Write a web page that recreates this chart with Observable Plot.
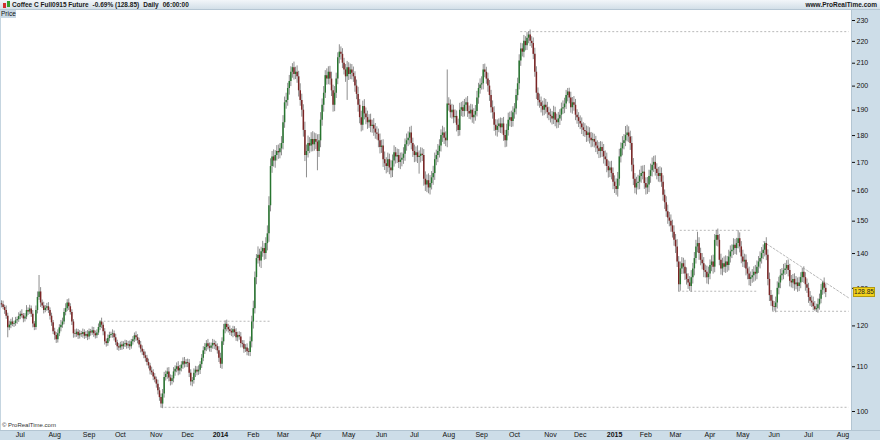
<!DOCTYPE html>
<html><head><meta charset="utf-8">
<script src="https://cdn.jsdelivr.net/npm/d3@7"></script>
<script src="https://cdn.jsdelivr.net/npm/@observablehq/plot@0.6"></script>
<style>
html,body{margin:0;padding:0;background:#fff;}
#wrap{position:relative;width:880px;height:440px;overflow:hidden;font-family:"Liberation Sans",Arial,sans-serif;}
#hdr{position:absolute;left:0;top:0;width:880px;height:10px;background:linear-gradient(#f2f6f9,#d3dfe8);border-bottom:1px solid #b5c6d3;box-sizing:border-box;}
#hleft{position:absolute;left:12px;top:0;display:flex;gap:4px;font-size:6.5px;line-height:9px;font-weight:bold;color:#1a1a1a;white-space:pre;}
#hright{position:absolute;right:3px;top:0;font-size:6.5px;line-height:9px;font-weight:bold;color:#1a1a1a;}
#icon1{position:absolute;left:3px;top:3px;width:3px;height:5px;background:#d03030;}
#icon2{position:absolute;left:7px;top:1px;width:3px;height:6px;background:#30a030;}
#price{position:absolute;left:0;top:10px;width:15px;height:8px;background:#c9d9e5;font-size:6.5px;line-height:8px;color:#111;padding-left:1px;}
#rpanel{position:absolute;left:851px;top:10px;width:29px;height:430px;background:#cddde8;border-left:1px solid #b3c5d2;box-sizing:border-box;}
#bpanel{position:absolute;left:0;top:430px;width:880px;height:10px;background:#cddde8;border-top:1px solid #b3c5d2;box-sizing:border-box;}
#lborder{position:absolute;left:0;top:10px;width:1px;height:420px;background:#c5d5e0;}
#copy{position:absolute;left:2px;top:422px;font-size:6px;color:#333;}
#chart{position:absolute;left:0;top:10px;}
#tag{position:absolute;left:853px;width:20px;height:8px;background:#f2d21b;border:1px solid #b49a10;font-size:6.5px;line-height:8px;text-align:center;color:#222;}
</style></head>
<body>
<div id="wrap">
  <div id="rpanel"></div>
  <div id="bpanel"></div>
  <div id="lborder"></div>
  <div id="chart"></div>
  <div id="hdr">
    <div id="icon1"></div><div id="icon2"></div>
    <div id="hleft"><span>Coffee C Full0915 Future</span><span>-0.69% (128.85)</span><span>Daily</span><span>06:00:00</span></div>
    <div id="hright">www.ProRealTime.com</div>
  </div>
  <div id="price">Price</div>
  <div id="copy">© ProRealTime.com</div>
  <div id="tag"></div>
</div>
<script>
// ---- data ----
const startDate = "2013-06-13";
const holidays = ["2013-07-04","2013-09-02","2013-11-28","2013-12-25","2014-01-01","2014-01-20","2014-02-17","2014-04-18","2014-05-26","2014-07-04","2014-09-01","2014-11-27","2014-12-25","2015-01-01","2015-01-19","2015-02-16","2015-04-03","2015-05-25","2015-07-03"];
const firstOpen = 125.8;
const closes = [
125.5,124.8,124,122.5,119.5,120.2,121,120.4,120.6,121.3,
121.6,122.4,123,122.6,121.8,122.3,124,123.6,124.4,123,
120.5,119.6,124,127.5,129,126,125.2,124,124.6,125,
124,122.5,120.8,118.5,117.6,116.5,118,119.5,120.2,121,
123.5,124.5,126,125,123.5,121,118,117.8,118.4,117.5,
118,117.8,118.3,117.4,117.8,117.2,118.5,118.2,118.8,118,
117.5,118.2,119.6,121,120.2,118.5,116,115.6,116.8,117.6,
117.8,118,117,115.8,114.8,114.5,115.2,114.8,115.4,115.6,
115,115.3,114.8,116,116.5,117.5,117,116.3,115.2,114.2,
113.5,112.6,112,111,110.2,109,108.6,107.6,107,106,
104.5,103,101.6,103.8,107.5,108.2,108.8,107.4,106.6,107.2,
108.8,109.4,110,109,109.6,110.4,111.2,110.6,111,110.8,
108.5,106.5,106.8,108.5,109.2,108.8,109.2,110.5,112,113.8,
114.6,115.5,114.8,114.4,115,115.6,115.2,114.8,113.8,112,
110.6,116,119,120.4,119.6,119,118.6,118.2,119,118.3,
117,117.6,117.2,115.6,115.4,114.2,114.5,113.6,113.4,116,
121,124.5,133,138.5,139.5,137.8,140.5,141.5,140,143,
146,155,168.5,172,170.5,172.5,174,173.5,175,177,
185,193,194,199,202,206,208,205,206,204,
198,194,190,182,172.5,174,177,176,178.5,176.5,
178.5,177.5,174,178,186,192,197,204.5,203,206,
203,198,192,197,203,212.5,215,214,210,207,
204,208,205,207,205.5,204,200,196.5,192,187,
184,191.5,188.5,187,185,186,183.5,184,182.5,181,
180.5,178,175.5,176,171,169.5,168.5,171,168,167,
170.5,173.5,172,172.5,170,170.8,171.5,173,176.5,178,
179,181,177,174,172.5,173.5,171.8,172.2,173,172.5,
164,162,163.5,161,162.5,164.5,166,171,172.5,174,
176,180,181,179,178,192.5,192,189,190,187,
187.5,184,182,190,191,189.5,192,193,189.5,188.5,
190,187,188,189.5,195,199,200.5,201,207,206,
203,200,196,191,189,184,182,183.5,184.5,183,
184.5,180,178,182,186,187,185.5,189,190.5,196,
201,211,216.5,215,220,218,221.5,223,220,219,
214,206,197,194,193,191.5,190,192,191,189,
188,187.5,186.5,189,186,185,186.5,188,190.5,191,
192.5,196,197.5,195,191,193,192,188,187,185.5,
184.5,183,182,181.5,180,181,179,178,178.5,177.5,
176,175,174,175.5,174,172,171,168.5,167,168,
166,163,161.5,160.5,164,172,175,177,178,180,
181,179.5,177,169,164,161,162.5,163,165,166,
166.5,162.5,161,162,165,167,169,170,167.5,166,
165,166,163,158.5,156,153,151,150,148.5,146.5,
144,142,137.5,131,135.5,137,136,134,132.5,131.5,
130.5,133,135.5,138.5,142,143,140,138,137,135,
134.5,133,134,136.5,137.5,136,144,145.5,144,138,
135.5,137,136,137.5,136.5,139,140.5,141,142.5,141.5,
143,144.5,142,139,137.5,138,135.5,134,132.5,133,
133.5,134.5,134,136,137.5,138.5,140,141,143,139.5,
132.5,128,126.5,125,124.8,126,130,131.5,133.5,134,
135,135.5,136.5,135,132,131.5,132.5,131,131.5,130.5,
131.5,133,134.5,133,131,130,127.5,126.5,126,125,
124.2,124.5,125.5,127,129.5,131.5,130,128.85];
const wickUp = [
0.8,1,0.6,1.2,0.8,1,0.7,1.1,0.6,0.9,
0.7,1,0.8,1.2,0.6,0.9,1.3,0.7,1,0.8,
1,0.6,1.2,1.5,4.6,1.2,0.8,1,0.7,0.9,
1.1,0.7,0.8,0.6,0.9,0.7,1,0.8,1.2,1,
1,1.3,0.9,1.1,0.8,0.7,0.6,1,0.8,0.7,
0.8,0.6,0.9,0.7,0.8,1,0.7,0.6,0.9,0.8,
0.7,0.8,0.9,0.3,1,0.6,0.8,0.7,0.9,0.8,
0.6,1,0.7,0.9,0.6,0.8,0.7,0.9,0.6,0.8,
0.7,0.8,0.9,0.6,0.8,0.7,1,0.8,0.6,0.9,
0.8,0.6,0.9,0.7,0.8,0.6,0.9,0.7,0.8,0.6,
0.9,0.7,0.8,1,1.2,0.8,0.9,1,0.7,0.8,
1,0.8,0.9,1.2,0.7,0.8,0.9,1,0.7,0.8,
0.9,0.8,0.7,1,0.9,0.8,1,0.7,0.9,1,
1,0.8,1.1,0.9,0.7,1,0.8,0.9,0.7,1,
1.2,1,1.4,0.9,1.1,0.8,1,0.7,0.9,0.8,
1,0.8,0.9,1.1,0.7,0.9,0.8,1,0.7,1.2,
1.5,2,1.6,1.2,2.5,1.8,1.4,2.2,1.5,1.8,
2.5,3,2.8,2,2.6,1.8,2.2,2.4,1.9,2.6,
2.8,2.4,3,2.2,2.6,2.4,1.8,2.5,2.2,2.8,
2.4,3,2.6,2.2,3.2,2.4,2.8,2.2,2.6,3,
2.5,2.2,2.8,2.4,3,2.6,2.8,2.2,3,2.4,
2.6,3,2.4,2.8,2.6,2.2,3.4,2.4,2.6,2.2,
2.4,2.8,2.2,2.6,2.4,2.8,2.2,2.6,3,2.4,
2.6,2.2,2.8,2.4,2.6,2.2,2.4,2,2.6,2.2,
2.4,2,2.6,2.2,2.4,2.8,2.2,2.4,2,2.6,
2.2,2.6,2,2.4,2.2,2.6,2,2.4,2.2,2.6,
2.4,2.2,2.6,2,2.4,2.2,2.6,2,2.4,2.2,
2.2,2.6,2,2.4,2.8,2.2,2.6,2.4,2,2.6,
2.4,2.2,2.6,2,2.4,14.5,2.6,2.2,2.4,2,
2.6,2.2,2.4,2.8,2.2,2.6,2.4,2,2.6,2.2,
2.4,2.2,2.6,2.4,2.8,2.2,2.6,3,2.4,2.6,
2.2,2.6,2.4,2.2,2.8,2.4,2.2,2.6,2,2.4,
2.2,2.6,2,2.4,2.8,2.2,2.6,2.4,2.2,2.6,
2.4,2.8,2.6,2.4,2.8,2.2,2.6,1.6,2.4,2.2,
2.6,2.8,2.4,2.2,2.6,2.4,2.2,2.8,2.4,2.2,
2.2,2.4,2,2.6,2.2,2.4,2.6,2.2,2.4,2.8,
2.4,2.2,1.5,1.6,2.4,2.2,2.6,2.4,2.2,2,
2.2,2.4,2,2.6,2.2,2.4,2,2.2,2.4,2,
2.2,2,2.4,2.2,2,2.6,2.2,2.4,2,2.2,
2.4,2,2.2,2.6,2.4,2.8,2.2,2.6,2.4,3.5,
3,2.4,2.2,2.6,2.4,2,2.2,2.4,2.2,2.6,
2.2,2.4,2,2.6,2.2,2.4,2.6,2.2,2.4,2,
2.2,2.4,2,2.2,1.8,2,2.2,1.8,2,1.8,
2,1.8,2.2,1.6,2,1.8,1.6,2,1.8,1.6,
1.8,2,1.6,1.8,2,3.5,1.8,1.6,2,1.8,
1.6,1.8,2,1.6,1.8,2,1.8,1.6,2,1.8,
1.8,1.6,2,1.8,1.6,2,1.8,1.6,2,1.8,
1.6,2.5,1.8,1.6,2,1.8,1.6,1.8,2,1.6,
1.8,1.6,2,1.8,1.6,2,1.8,1.6,0.6,1.8,
1.6,1.8,1.4,1.6,1.4,1.6,1.8,1.6,1.8,1.6,
1.8,1.6,1.4,1.6,1.8,1.6,1.4,1.6,1.8,1.4,
1.6,1.4,1.2,1.6,1.4,1.6,1.4,1.6,1.4,1.6,
1.4,1.2,1.6,1.4,1.6,0.5,1.4,1.2];
const wickDn = [
0.8,0.6,1,0.8,2.5,0.7,0.9,0.6,0.8,0.7,
0.9,0.7,0.8,0.6,1,0.8,0.7,0.9,0.6,0.8,
1,0.8,0.7,0.9,0.8,1.2,0.7,0.9,0.6,0.8,
0.8,1,0.9,0.7,1.2,0.9,0.8,0.7,1,0.8,
0.7,0.9,0.8,1,0.7,0.9,1.1,0.8,0.7,0.9,
0.8,0.7,0.9,0.8,0.6,0.9,0.7,0.8,0.6,0.9,
0.8,0.7,0.6,0.8,0.9,1,0.8,0.9,0.7,0.8,
0.7,0.9,0.8,0.7,0.9,0.8,0.6,0.9,0.7,0.8,
0.8,0.7,0.9,0.6,0.8,0.7,0.9,0.8,0.7,0.9,
0.8,0.7,0.9,0.8,0.7,0.9,0.6,0.8,0.7,0.9,
0.9,0.8,0.8,1,0.9,0.8,1.1,0.9,1,0.8,
0.9,1,0.8,1.1,0.9,0.8,1,0.9,0.8,1,
1,0.9,1.1,0.8,1,0.9,0.8,1,0.9,0.8,
0.9,1,0.8,0.9,1,0.8,1.1,0.9,0.8,1,
1,1.2,0.9,1,1.1,0.8,1,0.9,1.2,1,
0.9,1,0.8,1.1,0.9,1,0.8,1,0.9,1,
1.5,1.8,1.4,2,1.6,1.8,2.2,1.6,2,1.8,
2.2,2.6,2,2.4,2.2,2.6,2,2.4,2.2,2.6,
2.4,2.2,2.6,2.4,2.8,2.2,2.6,2.4,2.2,2.8,
2.6,2.4,2.8,2.6,2.2,8,2.4,2.8,2.2,2.6,
2.4,2.8,7,2.2,2.6,2.4,2.8,2.2,2.6,2.4,
2.6,2.4,2.8,2.6,2.2,2.4,2.8,2.6,2.4,2.2,
2.4,10,2.6,2.2,2.8,2.4,2.6,2.2,2.8,2.4,
2.6,2.2,2.4,2.8,2.6,2.2,2.4,2.6,2.8,2.4,
2.2,2.6,2.4,2.2,2.8,2.4,2.6,2.2,2.4,2.6,
2.4,2.2,2.6,2.4,2.2,2.6,2.4,2.2,2.6,2.4,
2.2,2.6,2.4,2.2,2.6,2.4,2.2,6,2.4,2.2,
2.4,2.2,2.6,2,2.4,2.2,2.6,2.4,2.2,2.6,
2.4,2.2,2.6,2.4,2.2,2.6,2.4,2.2,2.6,2.4,
2.2,2.6,2.4,2.2,2.6,2.4,2.2,2.6,2.4,2.2,
2.4,2.2,2.6,2.4,2.2,2.6,2.4,2.2,2.6,2.4,
2.2,2.6,2.4,2.2,2.6,2.4,2.2,2.6,2.4,2.2,
2.4,2.2,2.6,2.4,2.2,2.6,2.4,2.2,2.6,2.4,
2.2,2.6,2.4,2.2,2.6,2.4,2.2,2.6,2.4,2.2,
2.4,2.2,2.6,2.4,2.2,2.6,2.4,2.2,2.6,2.4,
2.2,2.6,2.4,2.2,2.6,2.4,2.2,2.6,2.4,2.2,
2.4,2.2,2.6,2.4,2.2,2.6,2.4,2.2,2.6,2.4,
2.2,2.6,2.4,2.2,2.6,2.4,2.2,2.6,2.4,2.2,
2.4,2.2,2.6,2.4,2.2,2.6,2.4,2.2,2.6,2.4,
2.2,2.6,2.4,2,2.6,2.4,2.2,2.6,2.4,2.2,
2.4,2.2,2.6,2.4,2.2,2,2.4,2.2,2.6,2.4,
2.2,2,2.4,2.2,2.6,2.4,2.2,2.6,2.4,2.2,
2,2.2,1.8,2,2.2,1.8,2,1.8,2,1.8,
1.8,2,1.6,2,1.8,1.6,2,1.8,1.6,1.8,
1.3,1.6,1.8,2,1.6,1.8,2,1.6,1.8,2,
1.6,1.8,2,1.6,1.8,2,1.6,1.8,2,1.6,
1.8,2,1.6,1.8,2,1.6,1.8,2,1.6,1.8,
2,1.6,1.8,2,1.6,1.8,2,1.6,1.8,2,
1.6,1.8,2,1.6,1.8,2,1.6,1.8,2,1.6,
1.8,1.6,1.4,1.2,1,1.4,1.6,1.8,1.6,1.4,
1.6,1.4,1.6,1.8,1.6,1.4,1.6,1.8,1.4,1.6,
1.4,1.6,1.4,1.6,1.8,1.4,1.6,1.4,1.2,1,
0.4,0.7,1.2,1.4,1.2,1.4,1.6,1.4];
const priceTicks = [100,110,120,130,140,150,160,170,180,190,200,210,220,230];
const lastPrice = 128.85;
// dashed support / resistance levels (bar number from, bar number to, price)
const levelFrom  = [63, 102, 332, 434, 433, 493];
const levelTo    = [173, 542, 542, 480, 483, 542];
const levelPrice = [121.2, 100.9, 224.6, 147.1, 129.2, 123.8];
// descending trend line
const trendBars   = [487, 542];
const trendPrices = [143.6, 127.3];

// ---- build ----
const fmtDay = d3.utcFormat("%Y-%m-%d");
const hol = new Set(holidays);
const dates = [];
for (let d = new Date(startDate + "T00:00:00Z"); dates.length < 545; d = d3.utcDay.offset(d, 1)) {
  const wd = d.getUTCDay();
  if (wd === 0 || wd === 6 || hol.has(fmtDay(d))) continue;
  dates.push(d);
}
const bars = closes.map((c, i) => {
  const o = i ? closes[i - 1] : firstOpen;
  return {i, open: o, close: c, high: Math.max(o, c) + (wickUp[i] ?? 1), low: Math.min(o, c) - (wickDn[i] ?? 1)};
});
const monthTicks = [], yearTicks = [];
for (let i = 1; i < dates.length && i <= 542; i++) {
  if (dates[i].getUTCMonth() !== dates[i - 1].getUTCMonth()) {
    (dates[i].getUTCMonth() === 0 ? yearTicks : monthTicks).push(i);
  }
}
const levels = levelPrice.map((p, k) => ({x1: levelFrom[k], x2: levelTo[k], y: p}));
const trend = trendBars.map((b, k) => ({x: b, y: trendPrices[k]}));

const UP = "#27752f", DOWN = "#7a2424", WICK = "#8e8e8e", DASH = "#b8b8b8";
const chart = Plot.plot({
  width: 880, height: 430,
  marginTop: 0, marginBottom: 10, marginLeft: 0, marginRight: 29,
  style: {fontFamily: "Liberation Sans, Arial, sans-serif", background: "transparent", color: "#111"},
  x: {type: "linear", domain: [0, 542], range: [1, 848.7]},
  y: {type: "log", domain: [100, 230], range: [401, 10]},
  marks: [
    Plot.ruleY(levels, {x1: "x1", x2: "x2", y: "y", stroke: DASH, strokeWidth: 1, strokeDasharray: "2,2", clip: true}),
    Plot.line(trend, {x: "x", y: "y", stroke: DASH, strokeWidth: 1, strokeDasharray: "2,2", clip: true}),
    Plot.ruleX(bars, {x: "i", y1: "low", y2: "high", stroke: WICK, strokeWidth: 1, clip: true}),
    Plot.ruleX(bars, {x: "i", y1: "open", y2: "close", stroke: d => d.close >= d.open ? UP : DOWN, strokeWidth: 1.5, clip: true}),
    Plot.axisY(priceTicks, {anchor: "right", tickSize: 3, tickPadding: 2, fontSize: 7, label: null, tickFormat: d => String(d)}),
    Plot.axisX(monthTicks, {anchor: "bottom", tickSize: 0, tickPadding: 2, fontSize: 7, label: null, tickFormat: i => d3.utcFormat("%b")(dates[i])}),
    Plot.axisX(yearTicks, {anchor: "bottom", tickSize: 0, tickPadding: 2, fontSize: 7, fontWeight: "bold", label: null, tickFormat: i => d3.utcFormat("%Y")(dates[i])})
  ]
});
document.getElementById("chart").appendChild(chart);
const tag = document.getElementById("tag");
tag.textContent = lastPrice.toFixed(2);
tag.style.top = (10 + chart.scale("y").apply(lastPrice) - 5) + "px";
</script>
</body></html>
